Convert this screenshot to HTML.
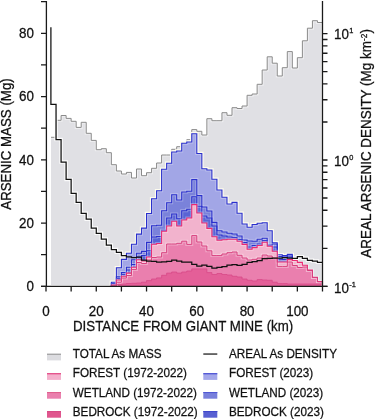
<!DOCTYPE html>
<html><head><meta charset="utf-8"><style>html,body{margin:0;padding:0;background:#fff;width:375px;height:419px;overflow:hidden}</style></head>
<body><svg width="375" height="419" viewBox="0 0 375 419" style="position:absolute;left:0;top:0;will-change:transform"><rect width="375" height="419" fill="#fff"/><path d="M51.03,285.0 V137.30H56.05V120.30H61.08V115.50H66.11V118.40H71.14V121.30H76.16V127.40H81.19V122.30H86.22V133.30H91.24V140.40H96.27V149.70H101.30V148.70H106.32V152.70H111.35V164.70H116.38V171.00H121.41V174.00H126.43V172.40H131.46V178.00H136.49V169.00H141.51V175.70H146.54V172.70H151.57V168.30H156.59V163.00H161.62V155.00H166.65V155.00H171.68V149.30H176.70V146.70H181.73V143.00H186.76V139.70H191.78V129.60H196.81V131.30H201.84V135.00H206.86V118.70H211.89V120.70H216.92V120.70H221.94V112.70H226.97V115.30H232.00V107.70H237.03V108.50H242.05V106.00H247.08V95.30H252.11V94.00H257.13V84.30H262.16V70.00H267.19V56.80H272.22V63.20H277.24V76.00H282.27V67.70H287.30V51.60H292.32V68.00H297.35V57.70H302.38V40.80H307.40V28.20H312.43V20.70H317.46V22.50H322.49V285.0Z" fill="#e0e0e4"/><path d="M51.03,137.3 V137.30H56.05V120.30H61.08V115.50H66.11V118.40H71.14V121.30H76.16V127.40H81.19V122.30H86.22V133.30H91.24V140.40H96.27V149.70H101.30V148.70H106.32V152.70H111.35V164.70H116.38V171.00H121.41V174.00H126.43V172.40H131.46V178.00H136.49V169.00H141.51V175.70H146.54V172.70H151.57V168.30H156.59V163.00H161.62V155.00H166.65V155.00H171.68V149.30H176.70V146.70H181.73V143.00H186.76V139.70H191.78V129.60H196.81V131.30H201.84V135.00H206.86V118.70H211.89V120.70H216.92V120.70H221.94V112.70H226.97V115.30H232.00V107.70H237.03V108.50H242.05V106.00H247.08V95.30H252.11V94.00H257.13V84.30H262.16V70.00H267.19V56.80H272.22V63.20H277.24V76.00H282.27V67.70H287.30V51.60H292.32V68.00H297.35V57.70H302.38V40.80H307.40V28.20H312.43V20.70H317.46V22.50H322.49V286.3" fill="none" stroke="#fff" stroke-width="3" opacity="0.45"/><path d="M51.03,137.3 V137.30H56.05V120.30H61.08V115.50H66.11V118.40H71.14V121.30H76.16V127.40H81.19V122.30H86.22V133.30H91.24V140.40H96.27V149.70H101.30V148.70H106.32V152.70H111.35V164.70H116.38V171.00H121.41V174.00H126.43V172.40H131.46V178.00H136.49V169.00H141.51V175.70H146.54V172.70H151.57V168.30H156.59V163.00H161.62V155.00H166.65V155.00H171.68V149.30H176.70V146.70H181.73V143.00H186.76V139.70H191.78V129.60H196.81V131.30H201.84V135.00H206.86V118.70H211.89V120.70H216.92V120.70H221.94V112.70H226.97V115.30H232.00V107.70H237.03V108.50H242.05V106.00H247.08V95.30H252.11V94.00H257.13V84.30H262.16V70.00H267.19V56.80H272.22V63.20H277.24V76.00H282.27V67.70H287.30V51.60H292.32V68.00H297.35V57.70H302.38V40.80H307.40V28.20H312.43V20.70H317.46V22.50H322.49V286.3" fill="none" stroke="#8a8a8a" stroke-width="1.0"/><path d="M50.9,27.2V104.30V104.30H56.05V139.60H61.08V162.00H66.11V179.40H71.14V193.30H76.16V202.30H81.19V213.30H86.22V219.20H91.24V228.00H96.27V233.30H101.30V239.00H106.32V245.00H111.35V249.60H116.38V252.30H121.41V255.60H126.43V256.80H131.46V257.50H136.49V257.00H141.51V260.20H146.54V261.00H151.57V261.40H156.59V262.20H161.62V261.90H166.65V261.30H171.68V260.00H176.70V261.20H181.73V262.20H186.76V262.00H191.78V264.30H196.81V266.00H201.84V265.00H206.86V266.30H211.89V268.00H216.92V267.40H221.94V266.60H226.97V265.00H232.00V264.70H237.03V265.30H242.05V264.30H247.08V262.30H252.11V261.70H257.13V260.70H262.16V258.70H267.19V258.30H272.22V258.00H277.24V258.00H282.27V257.70H287.30V258.00H292.32V258.30H297.35V256.70H302.38V258.30H307.40V260.30H312.43V261.00H317.46V262.30H322.49" fill="none" stroke="#fff" stroke-width="3.5" opacity="0.85" stroke-linejoin="miter"/><path d="M111.35,286.3 V282.20H116.38V267.80H121.41V259.40H126.43V253.20H131.46V244.30H136.49V234.10H141.51V228.10H146.54V213.50H151.57V198.70H156.59V190.70H161.62V169.30H166.65V163.30H171.68V152.00H176.70V151.00H181.73V143.30H186.76V142.00H191.78V133.70H196.81V153.50H201.84V168.80H206.86V170.00H211.89V179.30H216.92V190.00H221.94V197.30H226.97V204.00H232.00V202.40H237.03V213.30H242.05V224.00H247.08V227.30H252.11V224.50H257.13V223.30H262.16V222.70H267.19V230.70H272.22V242.70H277.24V254.80H282.27V255.60H287.30V254.40H292.32V286.3" fill="none" stroke="#fffcea" stroke-width="3.4" opacity="0.95"/><path d="M111.35,286.3 V282.20H116.38V267.80H121.41V259.40H126.43V253.20H131.46V244.30H136.49V234.10H141.51V228.10H146.54V213.50H151.57V198.70H156.59V190.70H161.62V169.30H166.65V163.30H171.68V152.00H176.70V151.00H181.73V143.30H186.76V142.00H191.78V133.70H196.81V153.50H201.84V168.80H206.86V170.00H211.89V179.30H216.92V190.00H221.94V197.30H226.97V204.00H232.00V202.40H237.03V213.30H242.05V224.00H247.08V227.30H252.11V224.50H257.13V223.30H262.16V222.70H267.19V230.70H272.22V242.70H277.24V254.80H282.27V255.60H287.30V254.40H292.32V286.3Z" fill="#a2a6e6"/><path d="M111.35,286.3 V283.50H116.38V276.90H121.41V272.60H126.43V267.30H131.46V259.80H136.49V253.20H141.51V251.40H146.54V242.40H151.57V225.70H156.59V225.20H161.62V210.70H166.65V202.70H171.68V194.70H176.70V200.00H181.73V192.00H186.76V191.30H191.78V179.60H196.81V195.60H201.84V207.00H206.86V211.00H211.89V222.40H216.92V230.80H221.94V232.00H226.97V233.20H232.00V234.00H237.03V236.00H242.05V240.00H247.08V241.00H252.11V241.30H257.13V239.30H262.16V238.30H267.19V245.00H272.22V244.00H277.24V256.50H282.27V257.00H287.30V256.00H292.32V286.3Z" fill="#7a82da"/><path d="M116.38,286.3 V278.50H121.41V274.50H126.43V270.00H131.46V264.50H136.49V257.00H141.51V255.60H146.54V250.80H151.57V237.00H156.59V236.50H161.62V230.30H166.65V218.00H171.68V214.00H176.70V218.70H181.73V210.70H186.76V209.30H191.78V196.70H196.81V206.30H201.84V216.00H206.86V218.00H211.89V226.00H216.92V235.00H221.94V236.00H226.97V237.00H232.00V237.50H237.03V239.50H242.05V242.50H247.08V247.00H252.11V245.50H257.13V244.00H262.16V240.50H267.19V245.80H272.22V247.00H277.24V259.20H282.27V259.50H287.30V257.20H292.32V286.3Z" fill="#5a64d4"/><path d="M111.35,286.3 V282.20H116.38V267.80H121.41V259.40H126.43V253.20H131.46V244.30H136.49V234.10H141.51V228.10H146.54V213.50H151.57V198.70H156.59V190.70H161.62V169.30H166.65V163.30H171.68V152.00H176.70V151.00H181.73V143.30H186.76V142.00H191.78V133.70H196.81V153.50H201.84V168.80H206.86V170.00H211.89V179.30H216.92V190.00H221.94V197.30H226.97V204.00H232.00V202.40H237.03V213.30H242.05V224.00H247.08V227.30H252.11V224.50H257.13V223.30H262.16V222.70H267.19V230.70H272.22V242.70H277.24V254.80H282.27V255.60H287.30V254.40H292.32V286.3" fill="none" stroke="#fff" stroke-width="3" opacity="0.3"/><path d="M111.35,286.3 V283.50H116.38V276.90H121.41V272.60H126.43V267.30H131.46V259.80H136.49V253.20H141.51V251.40H146.54V242.40H151.57V225.70H156.59V225.20H161.62V210.70H166.65V202.70H171.68V194.70H176.70V200.00H181.73V192.00H186.76V191.30H191.78V179.60H196.81V195.60H201.84V207.00H206.86V211.00H211.89V222.40H216.92V230.80H221.94V232.00H226.97V233.20H232.00V234.00H237.03V236.00H242.05V240.00H247.08V241.00H252.11V241.30H257.13V239.30H262.16V238.30H267.19V245.00H272.22V244.00H277.24V256.50H282.27V257.00H287.30V256.00H292.32V286.3" fill="none" stroke="#fff" stroke-width="3" opacity="0.3"/><path d="M116.38,286.3 V278.50H121.41V274.50H126.43V270.00H131.46V264.50H136.49V257.00H141.51V255.60H146.54V250.80H151.57V237.00H156.59V236.50H161.62V230.30H166.65V218.00H171.68V214.00H176.70V218.70H181.73V210.70H186.76V209.30H191.78V196.70H196.81V206.30H201.84V216.00H206.86V218.00H211.89V226.00H216.92V235.00H221.94V236.00H226.97V237.00H232.00V237.50H237.03V239.50H242.05V242.50H247.08V247.00H252.11V245.50H257.13V244.00H262.16V240.50H267.19V245.80H272.22V247.00H277.24V259.20H282.27V259.50H287.30V257.20H292.32V286.3" fill="none" stroke="#fff" stroke-width="3" opacity="0.3"/><path d="M111.35,286.3 V282.20H116.38V267.80H121.41V259.40H126.43V253.20H131.46V244.30H136.49V234.10H141.51V228.10H146.54V213.50H151.57V198.70H156.59V190.70H161.62V169.30H166.65V163.30H171.68V152.00H176.70V151.00H181.73V143.30H186.76V142.00H191.78V133.70H196.81V153.50H201.84V168.80H206.86V170.00H211.89V179.30H216.92V190.00H221.94V197.30H226.97V204.00H232.00V202.40H237.03V213.30H242.05V224.00H247.08V227.30H252.11V224.50H257.13V223.30H262.16V222.70H267.19V230.70H272.22V242.70H277.24V254.80H282.27V255.60H287.30V254.40H292.32V286.3" fill="none" stroke="#2a30cc" stroke-width="1.1"/><path d="M111.35,286.3 V283.50H116.38V276.90H121.41V272.60H126.43V267.30H131.46V259.80H136.49V253.20H141.51V251.40H146.54V242.40H151.57V225.70H156.59V225.20H161.62V210.70H166.65V202.70H171.68V194.70H176.70V200.00H181.73V192.00H186.76V191.30H191.78V179.60H196.81V195.60H201.84V207.00H206.86V211.00H211.89V222.40H216.92V230.80H221.94V232.00H226.97V233.20H232.00V234.00H237.03V236.00H242.05V240.00H247.08V241.00H252.11V241.30H257.13V239.30H262.16V238.30H267.19V245.00H272.22V244.00H277.24V256.50H282.27V257.00H287.30V256.00H292.32V286.3" fill="none" stroke="#2a30cc" stroke-width="1.1"/><path d="M116.38,286.3 V278.50H121.41V274.50H126.43V270.00H131.46V264.50H136.49V257.00H141.51V255.60H146.54V250.80H151.57V237.00H156.59V236.50H161.62V230.30H166.65V218.00H171.68V214.00H176.70V218.70H181.73V210.70H186.76V209.30H191.78V196.70H196.81V206.30H201.84V216.00H206.86V218.00H211.89V226.00H216.92V235.00H221.94V236.00H226.97V237.00H232.00V237.50H237.03V239.50H242.05V242.50H247.08V247.00H252.11V245.50H257.13V244.00H262.16V240.50H267.19V245.80H272.22V247.00H277.24V259.20H282.27V259.50H287.30V257.20H292.32V286.3" fill="none" stroke="#2a30cc" stroke-width="1.1"/><path d="M111.35,286.3 V285.00H116.38V280.00H121.41V276.30H126.43V273.10H131.46V267.30H136.49V259.80H141.51V261.00H146.54V257.00H151.57V244.20H156.59V243.50H161.62V231.30H166.65V226.00H171.68V221.30H176.70V226.00H181.73V220.00H186.76V218.00H191.78V204.60H196.81V213.00H201.84V223.00H206.86V228.40H211.89V236.80H216.92V240.30H221.94V239.70H226.97V239.20H232.00V239.30H237.03V241.20H242.05V244.40H247.08V249.20H252.11V247.60H257.13V245.50H262.16V242.20H267.19V246.30H272.22V251.30H277.24V262.00H282.27V262.00H287.30V259.60H292.32V260.50H297.35V262.40H302.38V265.30H307.40V270.00H312.43V277.20H317.46V281.50H322.49V286.3Z" fill="#f2b3cd"/><path d="M116.38,286.3 V282.20H121.41V278.00H126.43V275.50H131.46V269.40H136.49V262.50H141.51V263.50H146.54V260.00H151.57V257.50H156.59V257.00H161.62V252.70H166.65V244.00H171.68V244.00H176.70V243.30H181.73V241.20H186.76V244.40H191.78V235.60H196.81V242.00H201.84V246.00H206.86V250.80H211.89V255.60H216.92V255.60H221.94V254.00H226.97V252.70H232.00V252.00H237.03V255.30H242.05V258.00H247.08V260.00H252.11V259.30H257.13V258.00H262.16V255.00H267.19V256.00H272.22V258.00H277.24V266.40H282.27V266.40H287.30V262.00H292.32V265.50H297.35V267.50H302.38V267.00H307.40V270.50H312.43V277.50H317.46V281.80H322.49V286.3Z" fill="#ea7fae"/><path d="M111.35,286.3 V285.50H116.38V284.50H121.41V284.00H126.43V283.50H131.46V283.30H136.49V283.00H141.51V282.20H146.54V280.60H151.57V279.00H156.59V277.90H161.62V275.30H166.65V273.10H171.68V272.00H176.70V273.10H181.73V272.00H186.76V271.00H191.78V268.90H196.81V268.90H201.84V268.90H206.86V272.60H211.89V274.50H216.92V273.50H221.94V274.50H226.97V275.00H232.00V276.30H237.03V277.00H242.05V279.00H247.08V280.30H252.11V281.00H257.13V279.60H262.16V280.00H267.19V280.30H272.22V282.20H277.24V283.60H282.27V283.60H287.30V284.00H292.32V284.00H297.35V284.00H302.38V284.00H307.40V284.00H312.43V284.00H317.46V284.00H322.49V286.3Z" fill="#e45f98"/><path d="M111.35,286.3 V285.00H116.38V280.00H121.41V276.30H126.43V273.10H131.46V267.30H136.49V259.80H141.51V261.00H146.54V257.00H151.57V244.20H156.59V243.50H161.62V231.30H166.65V226.00H171.68V221.30H176.70V226.00H181.73V220.00H186.76V218.00H191.78V204.60H196.81V213.00H201.84V223.00H206.86V228.40H211.89V236.80H216.92V240.30H221.94V239.70H226.97V239.20H232.00V239.30H237.03V241.20H242.05V244.40H247.08V249.20H252.11V247.60H257.13V245.50H262.16V242.20H267.19V246.30H272.22V251.30H277.24V262.00H282.27V262.00H287.30V259.60H292.32V260.50H297.35V262.40H302.38V265.30H307.40V270.00H312.43V277.20H317.46V281.50H322.49V286.3" fill="none" stroke="#fff" stroke-width="3" opacity="0.3"/><path d="M116.38,286.3 V282.20H121.41V278.00H126.43V275.50H131.46V269.40H136.49V262.50H141.51V263.50H146.54V260.00H151.57V257.50H156.59V257.00H161.62V252.70H166.65V244.00H171.68V244.00H176.70V243.30H181.73V241.20H186.76V244.40H191.78V235.60H196.81V242.00H201.84V246.00H206.86V250.80H211.89V255.60H216.92V255.60H221.94V254.00H226.97V252.70H232.00V252.00H237.03V255.30H242.05V258.00H247.08V260.00H252.11V259.30H257.13V258.00H262.16V255.00H267.19V256.00H272.22V258.00H277.24V266.40H282.27V266.40H287.30V262.00H292.32V265.50H297.35V267.50H302.38V267.00H307.40V270.50H312.43V277.50H317.46V281.80H322.49V286.3" fill="none" stroke="#fff" stroke-width="3" opacity="0.3"/><path d="M111.35,286.3 V285.00H116.38V280.00H121.41V276.30H126.43V273.10H131.46V267.30H136.49V259.80H141.51V261.00H146.54V257.00H151.57V244.20H156.59V243.50H161.62V231.30H166.65V226.00H171.68V221.30H176.70V226.00H181.73V220.00H186.76V218.00H191.78V204.60H196.81V213.00H201.84V223.00H206.86V228.40H211.89V236.80H216.92V240.30H221.94V239.70H226.97V239.20H232.00V239.30H237.03V241.20H242.05V244.40H247.08V249.20H252.11V247.60H257.13V245.50H262.16V242.20H267.19V246.30H272.22V251.30H277.24V262.00H282.27V262.00H287.30V259.60H292.32V260.50H297.35V262.40H302.38V265.30H307.40V270.00H312.43V277.20H317.46V281.50H322.49V286.3" fill="none" stroke="#ea2a72" stroke-width="1.1"/><path d="M116.38,286.3 V282.20H121.41V278.00H126.43V275.50H131.46V269.40H136.49V262.50H141.51V263.50H146.54V260.00H151.57V257.50H156.59V257.00H161.62V252.70H166.65V244.00H171.68V244.00H176.70V243.30H181.73V241.20H186.76V244.40H191.78V235.60H196.81V242.00H201.84V246.00H206.86V250.80H211.89V255.60H216.92V255.60H221.94V254.00H226.97V252.70H232.00V252.00H237.03V255.30H242.05V258.00H247.08V260.00H252.11V259.30H257.13V258.00H262.16V255.00H267.19V256.00H272.22V258.00H277.24V266.40H282.27V266.40H287.30V262.00H292.32V265.50H297.35V267.50H302.38V267.00H307.40V270.50H312.43V277.50H317.46V281.80H322.49V286.3" fill="none" stroke="#d8407e" stroke-width="1"/><path d="M111.35,286.3 V285.50H116.38V284.50H121.41V284.00H126.43V283.50H131.46V283.30H136.49V283.00H141.51V282.20H146.54V280.60H151.57V279.00H156.59V277.90H161.62V275.30H166.65V273.10H171.68V272.00H176.70V273.10H181.73V272.00H186.76V271.00H191.78V268.90H196.81V268.90H201.84V268.90H206.86V272.60H211.89V274.50H216.92V273.50H221.94V274.50H226.97V275.00H232.00V276.30H237.03V277.00H242.05V279.00H247.08V280.30H252.11V281.00H257.13V279.60H262.16V280.00H267.19V280.30H272.22V282.20H277.24V283.60H282.27V283.60H287.30V284.00H292.32V284.00H297.35V284.00H302.38V284.00H307.40V284.00H312.43V284.00H317.46V284.00H322.49V286.3" fill="none" stroke="#d84a88" stroke-width="0.8"/><path d="M50.9,27.2V104.30V104.30H56.05V139.60H61.08V162.00H66.11V179.40H71.14V193.30H76.16V202.30H81.19V213.30H86.22V219.20H91.24V228.00H96.27V233.30H101.30V239.00H106.32V245.00H111.35V249.60H116.38V252.30H121.41V255.60H126.43V256.80H131.46V257.50H136.49V257.00H141.51V260.20H146.54V261.00H151.57V261.40H156.59V262.20H161.62V261.90H166.65V261.30H171.68V260.00H176.70V261.20H181.73V262.20H186.76V262.00H191.78V264.30H196.81V266.00H201.84V265.00H206.86V266.30H211.89V268.00H216.92V267.40H221.94V266.60H226.97V265.00H232.00V264.70H237.03V265.30H242.05V264.30H247.08V262.30H252.11V261.70H257.13V260.70H262.16V258.70H267.19V258.30H272.22V258.00H277.24V258.00H282.27V257.70H287.30V258.00H292.32V258.30H297.35V256.70H302.38V258.30H307.40V260.30H312.43V261.00H317.46V262.30H322.49" fill="none" stroke="#111" stroke-width="1.25" stroke-linejoin="miter"/><path d="M46.4,1V286.3M322.49,1V286.3M41,286.3H327.49" stroke="#1a1a1a" stroke-width="1.3" fill="none"/><path d="M41,286.30H46.4M41,254.68H46.4M41,223.05H46.4M41,191.43H46.4M41,159.80H46.4M41,128.18H46.4M41,96.55H46.4M41,64.93H46.4M41,33.30H46.4M41,1.68H46.4M46.00,286.3V291.5M71.14,286.3V291.5M96.27,286.3V291.5M121.41,286.3V291.5M146.54,286.3V291.5M171.68,286.3V291.5M196.81,286.3V291.5M221.94,286.3V291.5M247.08,286.3V291.5M272.22,286.3V291.5M297.35,286.3V291.5M322.49,286.3V291.5M322.49,286.30H327.49M322.49,248.28H327.49M322.49,226.04H327.49M322.49,210.26H327.49M322.49,198.02H327.49M322.49,188.02H327.49M322.49,179.56H327.49M322.49,172.24H327.49M322.49,165.78H327.49M322.49,160.00H327.49M322.49,121.98H327.49M322.49,99.74H327.49M322.49,83.96H327.49M322.49,71.72H327.49M322.49,61.72H327.49M322.49,53.26H327.49M322.49,45.94H327.49M322.49,39.48H327.49M322.49,33.70H327.49" stroke="#1a1a1a" stroke-width="1.3" fill="none"/><text transform="translate(34.00,291.10) scale(1,1.08)" font-family='"Liberation Sans", sans-serif' font-size="13.4" text-anchor="end" fill="#111" stroke="#111" stroke-width="0.25">0</text><text transform="translate(34.00,227.85) scale(1,1.08)" font-family='"Liberation Sans", sans-serif' font-size="13.4" text-anchor="end" fill="#111" stroke="#111" stroke-width="0.25">20</text><text transform="translate(34.00,164.60) scale(1,1.08)" font-family='"Liberation Sans", sans-serif' font-size="13.4" text-anchor="end" fill="#111" stroke="#111" stroke-width="0.25">40</text><text transform="translate(34.00,101.35) scale(1,1.08)" font-family='"Liberation Sans", sans-serif' font-size="13.4" text-anchor="end" fill="#111" stroke="#111" stroke-width="0.25">60</text><text transform="translate(34.00,38.10) scale(1,1.08)" font-family='"Liberation Sans", sans-serif' font-size="13.4" text-anchor="end" fill="#111" stroke="#111" stroke-width="0.25">80</text><text transform="translate(46.00,316.00) scale(1,1.08)" font-family='"Liberation Sans", sans-serif' font-size="13.4" text-anchor="middle" fill="#111" stroke="#111" stroke-width="0.25">0</text><text transform="translate(96.27,316.00) scale(1,1.08)" font-family='"Liberation Sans", sans-serif' font-size="13.4" text-anchor="middle" fill="#111" stroke="#111" stroke-width="0.25">20</text><text transform="translate(146.54,316.00) scale(1,1.08)" font-family='"Liberation Sans", sans-serif' font-size="13.4" text-anchor="middle" fill="#111" stroke="#111" stroke-width="0.25">40</text><text transform="translate(196.81,316.00) scale(1,1.08)" font-family='"Liberation Sans", sans-serif' font-size="13.4" text-anchor="middle" fill="#111" stroke="#111" stroke-width="0.25">60</text><text transform="translate(247.08,316.00) scale(1,1.08)" font-family='"Liberation Sans", sans-serif' font-size="13.4" text-anchor="middle" fill="#111" stroke="#111" stroke-width="0.25">80</text><text transform="translate(297.35,316.00) scale(1,1.08)" font-family='"Liberation Sans", sans-serif' font-size="13.4" text-anchor="middle" fill="#111" stroke="#111" stroke-width="0.25">100</text><text transform="translate(334.00,292.60) scale(1,1.08)" font-family='"Liberation Sans", sans-serif' font-size="13.4" text-anchor="start" fill="#111" stroke="#111" stroke-width="0.25">10<tspan dy="-5.3" dx="0.3" font-size="7.4">-1</tspan></text><text transform="translate(334.00,165.90) scale(1,1.08)" font-family='"Liberation Sans", sans-serif' font-size="13.4" text-anchor="start" fill="#111" stroke="#111" stroke-width="0.25">10<tspan dy="-5.3" dx="0.3" font-size="7.4">0</tspan></text><text transform="translate(334.00,38.70) scale(1,1.08)" font-family='"Liberation Sans", sans-serif' font-size="13.4" text-anchor="start" fill="#111" stroke="#111" stroke-width="0.25">10<tspan dy="-5.3" dx="0.3" font-size="7.4">1</tspan></text><text transform="translate(73.00,331.20) scale(1,1.08)" font-family='"Liberation Sans", sans-serif' font-size="13.3" text-anchor="start" fill="#111" stroke="#111" stroke-width="0.25">DISTANCE FROM GIANT MINE (km)</text><text transform="translate(10.90,209.70) rotate(-90) scale(1,1.08)" font-family='"Liberation Sans", sans-serif' font-size="13.3" text-anchor="start" fill="#111" stroke="#111" stroke-width="0.25">ARSENIC MASS (Mg)</text><text transform="translate(371.00,257.70) rotate(-90) scale(1,1.08)" font-family='"Liberation Sans", sans-serif' font-size="13.45" text-anchor="start" fill="#111" stroke="#111" stroke-width="0.25">AREAL ARSENIC DENSITY (Mg km<tspan dy="-3.4" dx="0.3" font-size="8.2">-2</tspan><tspan dy="3.4">)</tspan></text><rect x="47" y="353.7" width="14" height="6.7" fill="#dcdce0"/><rect x="47" y="353.7" width="14" height="1.1" fill="#9a9a9a"/><rect x="47" y="373.2" width="14" height="6.7" fill="#f4b0cc"/><rect x="47" y="373.2" width="14" height="1.1" fill="#e03a7c"/><rect x="47" y="392.0" width="14" height="6.7" fill="#ea80ae"/><rect x="47" y="392.0" width="14" height="1.1" fill="#e0608e"/><rect x="47" y="411.0" width="14" height="6.7" fill="#e0568e"/><rect x="47" y="411.0" width="14" height="1.1" fill="#d84a86"/><rect x="203.3" y="353.4" width="14" height="1.3" fill="#222"/><rect x="203.3" y="373.2" width="14" height="6.7" fill="#a4a8ea"/><rect x="203.3" y="373.2" width="14" height="1.1" fill="#3c44d0"/><rect x="203.3" y="392.0" width="14" height="6.7" fill="#7880dc"/><rect x="203.3" y="392.0" width="14" height="1.1" fill="#5058d4"/><rect x="203.3" y="411.0" width="14" height="6.7" fill="#5860d2"/><rect x="203.3" y="411.0" width="14" height="1.1" fill="#4048cc"/><text transform="translate(72.80,357.90) scale(1,1.05)" font-family='"Liberation Sans", sans-serif' font-size="11.7" text-anchor="start" fill="#111" stroke="#111" stroke-width="0.25">TOTAL As MASS</text><text transform="translate(229.00,357.90) scale(1,1.05)" font-family='"Liberation Sans", sans-serif' font-size="11.7" text-anchor="start" fill="#111" stroke="#111" stroke-width="0.25">AREAL As DENSITY</text><text transform="translate(72.80,377.30) scale(1,1.05)" font-family='"Liberation Sans", sans-serif' font-size="11.7" text-anchor="start" fill="#111" stroke="#111" stroke-width="0.25">FOREST (1972-2022)</text><text transform="translate(229.00,377.30) scale(1,1.05)" font-family='"Liberation Sans", sans-serif' font-size="11.7" text-anchor="start" fill="#111" stroke="#111" stroke-width="0.25">FOREST (2023)</text><text transform="translate(72.80,396.70) scale(1,1.05)" font-family='"Liberation Sans", sans-serif' font-size="11.7" text-anchor="start" fill="#111" stroke="#111" stroke-width="0.25">WETLAND (1972-2022)</text><text transform="translate(229.00,396.70) scale(1,1.05)" font-family='"Liberation Sans", sans-serif' font-size="11.7" text-anchor="start" fill="#111" stroke="#111" stroke-width="0.25">WETLAND (2023)</text><text transform="translate(72.80,415.50) scale(1,1.05)" font-family='"Liberation Sans", sans-serif' font-size="11.7" text-anchor="start" fill="#111" stroke="#111" stroke-width="0.25">BEDROCK (1972-2022)</text><text transform="translate(229.00,415.50) scale(1,1.05)" font-family='"Liberation Sans", sans-serif' font-size="11.7" text-anchor="start" fill="#111" stroke="#111" stroke-width="0.25">BEDROCK (2023)</text></svg></body></html>
